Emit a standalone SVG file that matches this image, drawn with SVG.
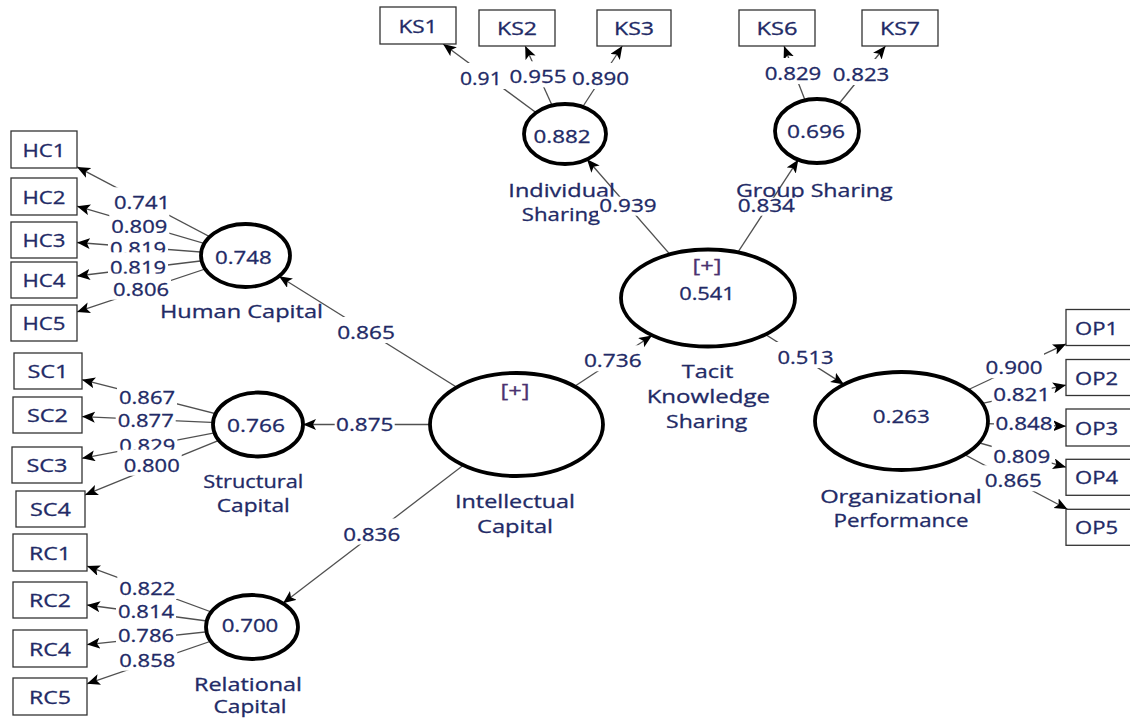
<svg xmlns="http://www.w3.org/2000/svg" width="1130" height="722" viewBox="0 0 1130 722">
<defs>
<marker id="ah" markerUnits="userSpaceOnUse" markerWidth="15" markerHeight="12" refX="13" refY="5.5" orient="auto">
<path d="M0,0 L13,5.5 L0,11 L3,5.5 z" fill="#000"/>
</marker>
<style>
.ln{stroke:#505050;stroke-width:1.3;fill:none;marker-end:url(#ah)}
.lv{fill:#fff;stroke:#000;stroke-width:3.8}
.bx{fill:#fff;stroke:#333;stroke-width:1.3}
text{font-family:"Open Sans","Noto Sans",sans-serif;font-size:18.5px;fill:#222a66;stroke:#222a66;stroke-width:0.3;text-anchor:middle}
.st{text-anchor:start}
.pl{fill:#4b3270;stroke:#4b3270}
.bg{fill:#fff}
</style>
</defs>
<rect width="1130" height="722" fill="#fff"/>
<g id="connectors">
<path class="ln" d="M516.5,424.5 L279,276.3"/>
<path class="ln" d="M516.5,424.5 L303,424.5"/>
<path class="ln" d="M516.5,424.5 L283,603.3"/>
<path class="ln" d="M516.5,424.5 L652,335.5"/>
<path class="ln" d="M708,298 L587,159.3"/>
<path class="ln" d="M708,298 L798.3,159.7"/>
<path class="ln" d="M708,298 L844,384.4"/>
<path class="ln" d="M245.5,255.5 L77,166.9"/>
<path class="ln" d="M245.5,255.5 L77,206.2"/>
<path class="ln" d="M245.5,255.5 L77,242.5"/>
<path class="ln" d="M245.5,255.5 L77,276"/>
<path class="ln" d="M245.5,255.5 L77,311.9"/>
<path class="ln" d="M258,424.5 L82,379.7"/>
<path class="ln" d="M258,424.5 L82,416.6"/>
<path class="ln" d="M258,424.5 L82,458.3"/>
<path class="ln" d="M258,424.5 L85,494.9"/>
<path class="ln" d="M252,627 L87,566.1"/>
<path class="ln" d="M252,627 L87,605"/>
<path class="ln" d="M252,627 L87,644.6"/>
<path class="ln" d="M252,627 L87,683.8"/>
<path class="ln" d="M565,134 L443.1,44"/>
<path class="ln" d="M565,134 L525.2,46"/>
<path class="ln" d="M565,134 L622.3,46"/>
<path class="ln" d="M817,131 L784,46"/>
<path class="ln" d="M817,131 L885.5,46"/>
<path class="ln" d="M901.5,421 L1066,343.9"/>
<path class="ln" d="M901.5,421 L1066,385.1"/>
<path class="ln" d="M901.5,421 L1066,426.2"/>
<path class="ln" d="M901.5,421 L1066,467.2"/>
<path class="ln" d="M901.5,421 L1067.5,509.3"/>
</g>
<g id="node-HC">
<ellipse class="lv" cx="245.5" cy="255.5" rx="44.5" ry="31.5"/>
<text x="243.3" y="264" textLength="56.7" lengthAdjust="spacingAndGlyphs">0.748</text>
<text x="241.5" y="318" textLength="163" lengthAdjust="spacingAndGlyphs">Human Capital</text>
</g>
<g id="node-SC">
<ellipse class="lv" cx="258" cy="424.5" rx="45" ry="32"/>
<text x="256" y="432.3" textLength="58" lengthAdjust="spacingAndGlyphs">0.766</text>
<text x="253.3" y="488" textLength="100" lengthAdjust="spacingAndGlyphs">Structural</text>
<text x="253.3" y="511.7" textLength="73" lengthAdjust="spacingAndGlyphs">Capital</text>
</g>
<g id="node-RC">
<ellipse class="lv" cx="252" cy="627" rx="46" ry="32"/>
<text x="250" y="632" textLength="56.7" lengthAdjust="spacingAndGlyphs">0.700</text>
<text x="248" y="690.5" textLength="108" lengthAdjust="spacingAndGlyphs">Relational</text>
<text x="250" y="712.7" textLength="73" lengthAdjust="spacingAndGlyphs">Capital</text>
</g>
<g id="node-IC">
<ellipse class="lv" cx="516.5" cy="424.5" rx="86.5" ry="51.5"/>
<text class="pl" x="515" y="396.7" textLength="29" lengthAdjust="spacingAndGlyphs">[+]</text>
<text x="515" y="508.3" textLength="120" lengthAdjust="spacingAndGlyphs">Intellectual</text>
<text x="515" y="533.3" textLength="76" lengthAdjust="spacingAndGlyphs">Capital</text>
</g>
<g id="node-TKS">
<ellipse class="lv" cx="708" cy="298" rx="87" ry="48.5"/>
<text class="pl" x="707" y="271.7" textLength="29" lengthAdjust="spacingAndGlyphs">[+]</text>
<text x="707" y="300" textLength="55.7" lengthAdjust="spacingAndGlyphs">0.541</text>
<text x="707.5" y="378.3" textLength="51.6" lengthAdjust="spacingAndGlyphs">Tacit</text>
<text x="708.3" y="403.3" textLength="123.3" lengthAdjust="spacingAndGlyphs">Knowledge</text>
<text x="706.7" y="428.3" textLength="81.3" lengthAdjust="spacingAndGlyphs">Sharing</text>
</g>
<g id="node-IS">
<ellipse class="lv" cx="565" cy="134" rx="41" ry="30"/>
<text x="562" y="143.3" textLength="57" lengthAdjust="spacingAndGlyphs">0.882</text>
<text x="561.7" y="197.3" textLength="106.7" lengthAdjust="spacingAndGlyphs">Individual</text>
<text x="561" y="220.7" textLength="78.3" lengthAdjust="spacingAndGlyphs">Sharing</text>
</g>
<g id="node-GS">
<ellipse class="lv" cx="817" cy="131" rx="42" ry="32"/>
<text x="816" y="138.3" textLength="58" lengthAdjust="spacingAndGlyphs">0.696</text>
<text x="814.3" y="196.7" textLength="156.7" lengthAdjust="spacingAndGlyphs">Group Sharing</text>
</g>
<g id="node-OP">
<ellipse class="lv" cx="901.5" cy="421" rx="86.5" ry="49"/>
<text x="901.3" y="423.3" textLength="57" lengthAdjust="spacingAndGlyphs">0.263</text>
<text x="901" y="502.7" textLength="161.7" lengthAdjust="spacingAndGlyphs">Organizational</text>
<text x="901" y="526.7" textLength="135" lengthAdjust="spacingAndGlyphs">Performance</text>
</g>
<g id="node-HC1"><rect class="bx" x="11" y="131" width="66" height="37"/><text x="44" y="156.5" textLength="43" lengthAdjust="spacingAndGlyphs">HC1</text></g>
<g id="node-HC2"><rect class="bx" x="11" y="178" width="66" height="37"/><text x="44" y="203.5" textLength="43" lengthAdjust="spacingAndGlyphs">HC2</text></g>
<g id="node-HC3"><rect class="bx" x="11" y="222" width="66" height="36"/><text x="44" y="247" textLength="43" lengthAdjust="spacingAndGlyphs">HC3</text></g>
<g id="node-HC4"><rect class="bx" x="11" y="262" width="66" height="36"/><text x="44" y="287" textLength="43" lengthAdjust="spacingAndGlyphs">HC4</text></g>
<g id="node-HC5"><rect class="bx" x="11" y="305" width="66" height="36"/><text x="44" y="330" textLength="43" lengthAdjust="spacingAndGlyphs">HC5</text></g>
<g id="node-SC1"><rect class="bx" x="14" y="353" width="68" height="36"/><text x="48" y="378" textLength="41" lengthAdjust="spacingAndGlyphs">SC1</text></g>
<g id="node-SC2"><rect class="bx" x="13" y="397" width="69" height="36"/><text x="47.5" y="422" textLength="41" lengthAdjust="spacingAndGlyphs">SC2</text></g>
<g id="node-SC3"><rect class="bx" x="12" y="447" width="70" height="36"/><text x="47" y="472" textLength="41" lengthAdjust="spacingAndGlyphs">SC3</text></g>
<g id="node-SC4"><rect class="bx" x="16" y="491" width="69" height="36"/><text x="50.5" y="516" textLength="41" lengthAdjust="spacingAndGlyphs">SC4</text></g>
<g id="node-RC1"><rect class="bx" x="13" y="534" width="74" height="37"/><text x="50" y="559.5" textLength="42" lengthAdjust="spacingAndGlyphs">RC1</text></g>
<g id="node-RC2"><rect class="bx" x="13" y="582" width="74" height="36"/><text x="50" y="607" textLength="42" lengthAdjust="spacingAndGlyphs">RC2</text></g>
<g id="node-RC4"><rect class="bx" x="13" y="630" width="74" height="37"/><text x="50" y="655.5" textLength="42" lengthAdjust="spacingAndGlyphs">RC4</text></g>
<g id="node-RC5"><rect class="bx" x="13" y="678" width="74" height="37"/><text x="50" y="703.5" textLength="42" lengthAdjust="spacingAndGlyphs">RC5</text></g>
<g id="node-KS1"><rect class="bx" x="380" y="7" width="76" height="37"/><text x="418" y="32.5" textLength="39" lengthAdjust="spacingAndGlyphs">KS1</text></g>
<g id="node-KS2"><rect class="bx" x="479" y="10" width="76" height="36"/><text x="517" y="35" textLength="40" lengthAdjust="spacingAndGlyphs">KS2</text></g>
<g id="node-KS3"><rect class="bx" x="597" y="10" width="74" height="36"/><text x="634" y="35" textLength="40" lengthAdjust="spacingAndGlyphs">KS3</text></g>
<g id="node-KS6"><rect class="bx" x="739" y="10" width="76" height="36"/><text x="777" y="35" textLength="41" lengthAdjust="spacingAndGlyphs">KS6</text></g>
<g id="node-KS7"><rect class="bx" x="862" y="10" width="76" height="36"/><text x="900" y="35" textLength="40" lengthAdjust="spacingAndGlyphs">KS7</text></g>
<g id="node-OP1"><rect class="bx" x="1066" y="309.5" width="80" height="36"/><text x="1096.5" y="334.5" textLength="43" lengthAdjust="spacingAndGlyphs">OP1</text></g>
<g id="node-OP2"><rect class="bx" x="1066" y="359.5" width="80" height="36"/><text x="1096.5" y="384.5" textLength="43" lengthAdjust="spacingAndGlyphs">OP2</text></g>
<g id="node-OP3"><rect class="bx" x="1066" y="409" width="80" height="37"/><text x="1096.5" y="434.5" textLength="43" lengthAdjust="spacingAndGlyphs">OP3</text></g>
<g id="node-OP4"><rect class="bx" x="1066" y="459.3" width="80" height="36"/><text x="1096.5" y="484" textLength="43" lengthAdjust="spacingAndGlyphs">OP4</text></g>
<g id="node-OP5"><rect class="bx" x="1066" y="509.3" width="80" height="36"/><text x="1096.5" y="534" textLength="43" lengthAdjust="spacingAndGlyphs">OP5</text></g>
<g id="connector-labels">
<rect class="bg" x="112" y="187.3" width="60" height="26"/><text x="142" y="209.3" textLength="56" lengthAdjust="spacingAndGlyphs">0.741</text>
<rect class="bg" x="109.3" y="210.7" width="60" height="26"/><text x="139.3" y="232.7" textLength="56" lengthAdjust="spacingAndGlyphs">0.809</text>
<rect class="bg" x="108" y="233" width="60" height="26"/><text x="138" y="255" textLength="56" lengthAdjust="spacingAndGlyphs">0.819</text>
<rect class="bg" x="108" y="252.3" width="60" height="26"/><text x="138" y="274.3" textLength="56" lengthAdjust="spacingAndGlyphs">0.819</text>
<rect class="bg" x="111" y="273.7" width="60" height="26"/><text x="141" y="295.7" textLength="56" lengthAdjust="spacingAndGlyphs">0.806</text>
<rect class="bg" x="117" y="382" width="60" height="26"/><text x="147" y="404" textLength="56" lengthAdjust="spacingAndGlyphs">0.867</text>
<rect class="bg" x="115.7" y="405.3" width="60" height="26"/><text x="145.7" y="427.3" textLength="56" lengthAdjust="spacingAndGlyphs">0.877</text>
<rect class="bg" x="117.3" y="430" width="60" height="26"/><text x="147.3" y="452" textLength="56" lengthAdjust="spacingAndGlyphs">0.829</text>
<rect class="bg" x="121.7" y="449.7" width="60" height="26"/><text x="151.7" y="471.7" textLength="56" lengthAdjust="spacingAndGlyphs">0.800</text>
<rect class="bg" x="117.3" y="573" width="60" height="26"/><text x="147.3" y="595" textLength="56" lengthAdjust="spacingAndGlyphs">0.822</text>
<rect class="bg" x="116" y="596.3" width="60" height="26"/><text x="146" y="618.3" textLength="56" lengthAdjust="spacingAndGlyphs">0.814</text>
<rect class="bg" x="116" y="620.3" width="60" height="26"/><text x="146" y="642.3" textLength="56" lengthAdjust="spacingAndGlyphs">0.786</text>
<rect class="bg" x="117.3" y="644.7" width="60" height="26"/><text x="147.3" y="666.7" textLength="56" lengthAdjust="spacingAndGlyphs">0.858</text>
<rect class="bg" x="458" y="63" width="58" height="26"/><text class="st" x="460" y="85" textLength="41.7" lengthAdjust="spacingAndGlyphs">0.91</text>
<rect class="bg" x="508" y="61.3" width="60" height="26"/><text x="538" y="83.3" textLength="57" lengthAdjust="spacingAndGlyphs">0.955</text>
<rect class="bg" x="570.5" y="63" width="60" height="26"/><text x="600.5" y="85" textLength="57" lengthAdjust="spacingAndGlyphs">0.890</text>
<rect class="bg" x="763" y="58" width="60" height="26"/><text x="793" y="80" textLength="56.7" lengthAdjust="spacingAndGlyphs">0.829</text>
<rect class="bg" x="831" y="59" width="60" height="26"/><text x="861" y="81" textLength="56.7" lengthAdjust="spacingAndGlyphs">0.823</text>
<rect class="bg" x="984" y="352" width="60" height="26"/><text x="1014" y="374" textLength="57" lengthAdjust="spacingAndGlyphs">0.900</text>
<rect class="bg" x="991.7" y="378.7" width="60" height="26"/><text x="1021.7" y="400.7" textLength="57" lengthAdjust="spacingAndGlyphs">0.821</text>
<rect class="bg" x="994" y="408" width="60" height="26"/><text x="1024" y="430" textLength="57" lengthAdjust="spacingAndGlyphs">0.848</text>
<rect class="bg" x="991.7" y="440.7" width="60" height="26"/><text x="1021.7" y="462.7" textLength="57" lengthAdjust="spacingAndGlyphs">0.809</text>
<rect class="bg" x="983.3" y="465.3" width="60" height="26"/><text x="1013.3" y="487.3" textLength="57" lengthAdjust="spacingAndGlyphs">0.865</text>
<rect class="bg" x="336" y="317" width="60" height="26"/><text x="366" y="339" textLength="57.7" lengthAdjust="spacingAndGlyphs">0.865</text>
<rect class="bg" x="334.7" y="408.7" width="60" height="26"/><text x="364.7" y="430.7" textLength="57.3" lengthAdjust="spacingAndGlyphs">0.875</text>
<rect class="bg" x="341.7" y="518.5" width="60" height="26"/><text x="371.7" y="540.5" textLength="57" lengthAdjust="spacingAndGlyphs">0.836</text>
<rect class="bg" x="582.8" y="345.3" width="60" height="26"/><text x="612.8" y="367.3" textLength="57.7" lengthAdjust="spacingAndGlyphs">0.736</text>
<rect class="bg" x="598" y="196.7" width="60" height="19"/><text x="628" y="211.7" textLength="57.3" lengthAdjust="spacingAndGlyphs">0.939</text>
<rect class="bg" x="736.3" y="197.7" width="60" height="18"/><text x="766.3" y="211.7" textLength="57.3" lengthAdjust="spacingAndGlyphs">0.834</text>
<rect class="bg" x="775.5" y="342" width="60" height="26"/><text x="805.5" y="364" textLength="56" lengthAdjust="spacingAndGlyphs">0.513</text>
</g>
</svg>
